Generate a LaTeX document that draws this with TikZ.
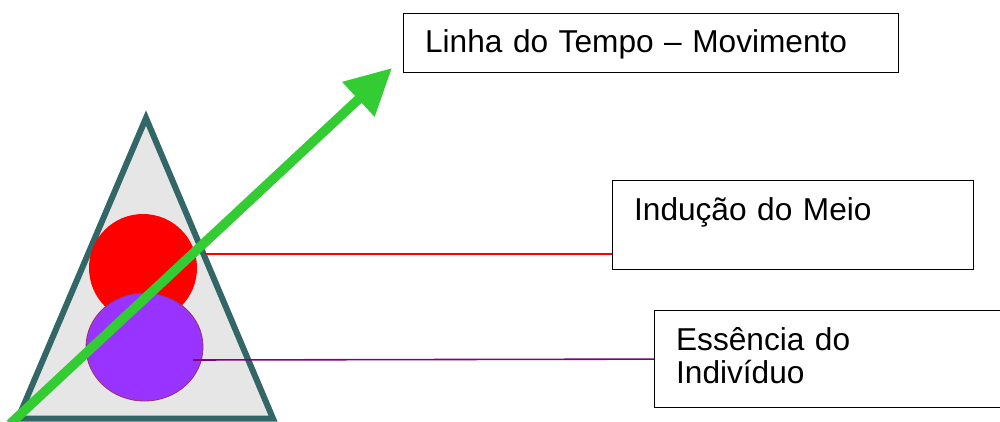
\documentclass[tikz,border=0pt]{standalone}
\usepackage{fontspec}
\setmainfont{Liberation Sans}
\usetikzlibrary{arrows.meta,shapes.geometric}
\definecolor{verdeseta}{RGB}{51,204,51}
\definecolor{bordatri}{RGB}{51,102,102}
\definecolor{fundotri}{RGB}{230,230,230}
\definecolor{roxo}{RGB}{153,51,255}
\definecolor{bordaroxo}{RGB}{153,51,102}
\definecolor{linharoxa}{RGB}{128,0,128}
\begin{document}
\begin{tikzpicture}[line join=miter,x=1.0cm,y=1.0cm,scale=1,
		caixa/.style={draw=black,line width=0.7pt,inner xsep=0.43cm,inner ysep=0pt,align=left,anchor=north west,font=\fontsize{18pt}{18.8pt}\selectfont},
		seta/.style={-{Triangle[length=0.92cm,width=0.9cm]},draw=verdeseta,line width=0.19cm,line cap=butt}]
				\clip(0,0) rectangle (20,8.42);
				\draw [fill=fundotri,draw=bordatri,line width=0.12cm] (2.92,6.06)-- (0.36,0.05)-- (5.46,0.05)-- cycle;
				\node [circle,fill=red,minimum size=2.16cm,inner sep=0pt] (meio) at (2.86,3.06) {};
				\node [ellipse,fill=roxo,draw=bordaroxo,line width=0.5pt,minimum width=2.34cm,minimum height=2.16cm,inner sep=0pt] (essencia) at (2.89,1.48) {};
				\node [caixa,text width=9.04cm,text height=0.78cm,text depth=0.4cm] (tempo) at (8.06,8.16) {Linha do Tempo -- Movimento};
				\node [caixa,text width=6.36cm,text height=0.8cm,text depth=0.98cm] (inducao) at (12.24,4.82) {Indução do Meio};
				\node [caixa,text width=6.1cm,text height=0.8cm,text depth=1.14cm] (individuo) at (13.08,2.22) {Essência do\\Indivíduo};
				\coordinate (pmeio) at (4.10,3.34);
				\coordinate (pessencia) at (3.86,1.22);
				\draw [red,line width=0.8pt] (pmeio)-- (pmeio -| inducao.west);
				\draw [linharoxa,line width=0.9pt] (pessencia)-- (individuo.west);
				\coordinate (inicio) at (0.2,-0.06);
				\coordinate (fim) at (7.84,7.06);
				\draw [seta] (inicio)-- (fim);
			\end{tikzpicture}
\end{document}
